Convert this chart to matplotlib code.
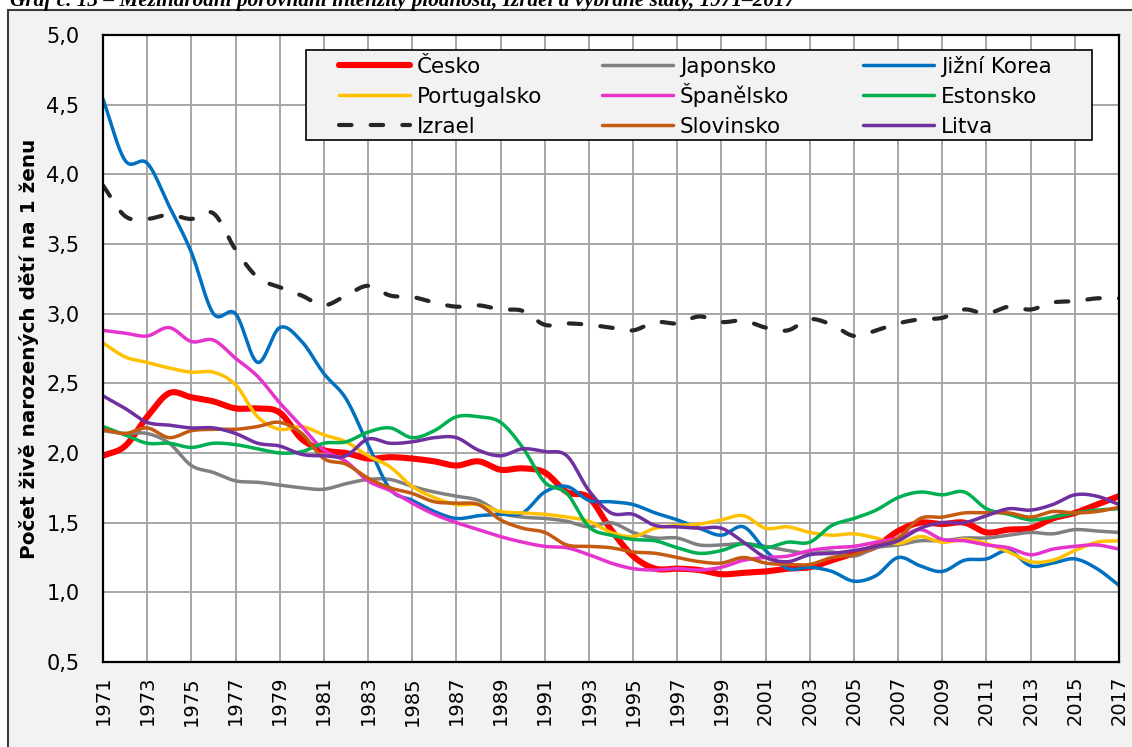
import numpy as np
import matplotlib
matplotlib.use("Agg")
import matplotlib.pyplot as plt
from matplotlib.patches import Rectangle
from matplotlib.ticker import FuncFormatter

plt.rcParams['font.family'] = ['DejaVu Sans']

# data (TFR, 1971-2017)
years = list(range(1971, 2018))

cesko = [1.98, 2.05, 2.26, 2.43, 2.40, 2.37, 2.32, 2.32, 2.29, 2.10,
         2.02, 2.00, 1.96, 1.97, 1.96, 1.94, 1.91, 1.94, 1.88, 1.89,
         1.86, 1.72, 1.68, 1.45, 1.26, 1.17, 1.17, 1.16, 1.13, 1.14,
         1.15, 1.17, 1.18, 1.23, 1.28, 1.33, 1.44, 1.50, 1.49, 1.50,
         1.43, 1.45, 1.46, 1.53, 1.57, 1.63, 1.69]
japonsko = [2.16, 2.14, 2.14, 2.07, 1.91, 1.86, 1.80, 1.79, 1.77, 1.75,
            1.74, 1.78, 1.81, 1.81, 1.76, 1.72, 1.69, 1.66, 1.57, 1.54,
            1.53, 1.51, 1.47, 1.50, 1.43, 1.39, 1.39, 1.34, 1.34, 1.35,
            1.33, 1.30, 1.28, 1.29, 1.26, 1.32, 1.34, 1.37, 1.37, 1.39,
            1.39, 1.41, 1.43, 1.42, 1.45, 1.44, 1.43]
korea = [4.54, 4.10, 4.08, 3.77, 3.44, 3.00, 3.00, 2.65, 2.90, 2.80,
         2.57, 2.39, 2.06, 1.74, 1.66, 1.58, 1.53, 1.55, 1.56, 1.57,
         1.72, 1.76, 1.66, 1.65, 1.63, 1.57, 1.52, 1.46, 1.41, 1.47,
         1.30, 1.17, 1.18, 1.15, 1.08, 1.12, 1.25, 1.19, 1.15, 1.23,
         1.24, 1.30, 1.19, 1.21, 1.24, 1.17, 1.05]
portugalsko = [2.79, 2.69, 2.65, 2.61, 2.58, 2.58, 2.49, 2.26, 2.17, 2.19,
               2.13, 2.08, 1.98, 1.90, 1.76, 1.68, 1.63, 1.63, 1.58, 1.57,
               1.56, 1.54, 1.51, 1.43, 1.40, 1.46, 1.48, 1.49, 1.52, 1.55,
               1.46, 1.47, 1.43, 1.41, 1.42, 1.39, 1.35, 1.40, 1.36, 1.38,
               1.35, 1.29, 1.22, 1.23, 1.30, 1.36, 1.37]
spanelsko = [2.88, 2.86, 2.84, 2.90, 2.80, 2.81, 2.68, 2.55, 2.36, 2.19,
             2.02, 1.94, 1.80, 1.73, 1.64, 1.56, 1.50, 1.45, 1.40, 1.36,
             1.33, 1.32, 1.27, 1.21, 1.17, 1.16, 1.17, 1.16, 1.18, 1.23,
             1.25, 1.26, 1.30, 1.32, 1.33, 1.36, 1.39, 1.45, 1.38, 1.37,
             1.34, 1.32, 1.27, 1.31, 1.33, 1.34, 1.31]
estonsko = [2.19, 2.13, 2.07, 2.07, 2.04, 2.07, 2.06, 2.03, 2.00, 2.01,
            2.07, 2.08, 2.15, 2.18, 2.11, 2.16, 2.26, 2.26, 2.22, 2.04,
            1.79, 1.71, 1.47, 1.41, 1.38, 1.37, 1.32, 1.28, 1.30, 1.35,
            1.32, 1.36, 1.36, 1.48, 1.53, 1.59, 1.68, 1.72, 1.70, 1.72,
            1.60, 1.56, 1.52, 1.54, 1.57, 1.59, 1.60]
izrael = [3.92, 3.70, 3.68, 3.71, 3.68, 3.72, 3.46, 3.26, 3.19, 3.13,
          3.06, 3.13, 3.20, 3.13, 3.12, 3.08, 3.05, 3.06, 3.03, 3.02,
          2.92, 2.93, 2.92, 2.90, 2.88, 2.94, 2.93, 2.98, 2.94, 2.95,
          2.90, 2.88, 2.96, 2.92, 2.84, 2.88, 2.93, 2.96, 2.97, 3.03,
          3.00, 3.05, 3.03, 3.08, 3.09, 3.11, 3.11]
slovinsko = [2.17, 2.14, 2.18, 2.11, 2.16, 2.17, 2.17, 2.19, 2.22, 2.14,
             1.96, 1.92, 1.82, 1.75, 1.71, 1.65, 1.64, 1.63, 1.52, 1.46,
             1.43, 1.34, 1.33, 1.32, 1.29, 1.28, 1.25, 1.22, 1.21, 1.25,
             1.21, 1.20, 1.20, 1.25, 1.27, 1.33, 1.39, 1.53, 1.54, 1.57,
             1.57, 1.57, 1.54, 1.58, 1.57, 1.58, 1.61]
litva = [2.41, 2.32, 2.22, 2.20, 2.18, 2.18, 2.14, 2.07, 2.05, 1.99,
         1.98, 1.98, 2.10, 2.07, 2.08, 2.11, 2.11, 2.02, 1.98, 2.03,
         2.01, 1.98, 1.73, 1.57, 1.56, 1.48, 1.47, 1.46, 1.46, 1.36,
         1.25, 1.22, 1.27, 1.28, 1.30, 1.33, 1.37, 1.46, 1.50, 1.50,
         1.55, 1.60, 1.59, 1.63, 1.70, 1.69, 1.63]

# (name, values, colour, line width, dashes) - order = excel series order
series = [
    ("Česko", cesko, "#ff0000", 4.4, None),
    ("Japonsko", japonsko, "#808080", 2.5, None),
    ("Jižní Korea", korea, "#0070c0", 2.5, None),
    ("Portugalsko", portugalsko, "#ffc000", 2.5, None),
    ("Španělsko", spanelsko, "#e633cc", 2.5, None),
    ("Estonsko", estonsko, "#00b050", 2.5, None),
    ("Izrael", izrael, "#262626", 3.0, (3.0, 4.6)),
    ("Slovinsko", slovinsko, "#c55a11", 2.5, None),
    ("Litva", litva, "#7030a0", 2.5, None),
]


def smooth(xs, ys, n=12):
    # catmull-rom, roughly what excel does for "smoothed line"
    x = np.asarray(xs, float)
    y = np.asarray(ys, float)
    xp = np.concatenate([[2 * x[0] - x[1]], x, [2 * x[-1] - x[-2]]])
    yp = np.concatenate([[2 * y[0] - y[1]], y, [2 * y[-1] - y[-2]]])
    t = np.linspace(0, 1, n, endpoint=False)[:, None]

    def cr(p):
        p0, p1, p2, p3 = p[:-3], p[1:-2], p[2:-1], p[3:]
        return 0.5 * (2 * p1 + (-p0 + p2) * t + (2 * p0 - 5 * p1 + 4 * p2 - p3) * t ** 2
                      + (-p0 + 3 * p1 - 3 * p2 + p3) * t ** 3)

    xx = np.append(cr(xp).T.ravel(), x[-1])
    yy = np.append(cr(yp).T.ravel(), y[-1])
    return xx, yy


W, H = 1132, 747
AX_L, AX_R, AX_T, AX_B = 103, 1119, 35, 662   # plot area in pixels

fig = plt.figure(figsize=(W / 100, H / 100), dpi=100)

# gray chart-area box (continues past the right and bottom edge)
fig.patches.append(Rectangle((8 / W, -0.02), 1.05, 1 - 10 / H + 0.02, transform=fig.transFigure,
                             facecolor="#f2f2f2", edgecolor="#3c3c3c", lw=1.5, zorder=-10))
# title, cut at the top in the original
fig.text(10 / W, 1 - 6 / H, "Graf č. 13 – Mezinárodní porovnání intenzity plodnosti, Izrael a vybrané státy, 1971–2017",
         family="Liberation Serif", style="italic", weight="bold", fontsize=15.3, va="baseline", ha="left")

ax = fig.add_axes([AX_L / W, 1 - AX_B / H, (AX_R - AX_L) / W, (AX_B - AX_T) / H])
ax.set_facecolor("white")

for name, vals, col, lw, dash in series:
    xx, yy = smooth(years, vals)
    ln, = ax.plot(xx, yy, color=col, lw=lw, label=name, solid_capstyle="round",
                  dash_capstyle="round", solid_joinstyle="round")
    if dash:
        ln.set_dashes(dash)

ax.set_xlim(1971, 2017)
ax.set_ylim(0.5, 5.0)
ax.set_xticks(years[::2])
ax.set_yticks(np.arange(0.5, 5.01, 0.5))
ax.yaxis.set_major_formatter(FuncFormatter(lambda v, p: f"{v:.1f}".replace(".", ",")))
ax.tick_params(axis="x", labelrotation=90, length=0, pad=10, labelsize=14)
ax.tick_params(axis="y", length=0, pad=17, labelsize=15)
ax.grid(True, color="#a6a6a6", lw=1.4)
ax.set_axisbelow(True)
for s in ax.spines.values():
    s.set_color("black")
    s.set_linewidth(1.6)

ax.set_ylabel("Počet živě narozených dětí na 1 ženu", fontsize=14.4, weight="bold")
ax.yaxis.set_label_coords(-0.063, 0.5)


# legend drawn by hand: excel puts it in a 3x3 grid with equal columns
def axpos(px, py):
    return (px - AX_L) / (AX_R - AX_L), (AX_B - py) / (AX_B - AX_T)


x0, y0 = axpos(306, 140)
x1, y1 = axpos(1092, 50)
ax.add_patch(Rectangle((x0, y0), x1 - x0, y1 - y0, transform=ax.transAxes, facecolor="#f2f2f2",
                       edgecolor="black", lw=1.2, zorder=5))
col_x = [339, 602, 863]
row_y = [65, 95, 125]
for i, (name, vals, col, lw, dash) in enumerate(series):
    r, c = divmod(i, 3)
    ha, va = axpos(col_x[c], row_y[r])
    hb, _ = axpos(col_x[c] + 71, row_y[r])
    ln, = ax.plot([ha, hb], [va, va], transform=ax.transAxes, color=col, lw=lw,
                  solid_capstyle="round", dash_capstyle="round", zorder=6)
    if dash:
        ln.set_dashes(dash)
    tx, ty = axpos(col_x[c] + 78, row_y[r] + 8)
    ax.text(tx, ty, name, transform=ax.transAxes, fontsize=15.5, va="baseline", ha="left", zorder=7)

fig.savefig("out.png", dpi=100)
